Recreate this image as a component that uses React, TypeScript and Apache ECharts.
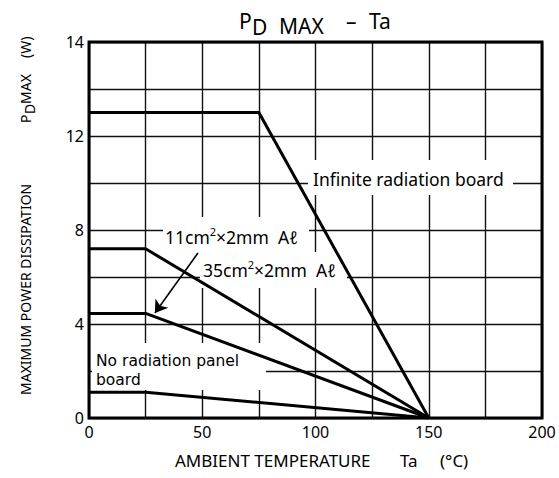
import React, { useEffect, useRef } from 'react';
import * as echarts from 'echarts';

const FONT = '"Noto Sans", "DejaVu Sans", sans-serif';
const FONT2 = '"DejaVu Sans", sans-serif';

// Ambient temperature (°C) breakpoints and PD MAX (W) values
const infiniteTa = [0, 75, 150];
const infinitePd = [13, 13, 0];
const al35Ta = [0, 25, 150];
const al35Pd = [7.2, 7.2, 0];
const al11Ta = [0, 25, 150];
const al11Pd = [4.45, 4.45, 0];
const noBoardTa = [0, 25, 150];
const noBoardPd = [1.1, 1.1, 0];

// axis ticks
const xTickLabels = [0, 50, 100, 150, 200];
const yTickValues = [0, 4, 8, 12, 16];
const yTickLabels = ['0', '4', '8', '12', '14'];

// annotation arrow (data units): from the 11cm² label to its curve
const arrowFrom = [48.1, 7.02];
const arrowTo = [29.1, 4.47];

const zip = (a: number[], b: number[]) => a.map((v, i) => [v, b[i]]);

function makeSeries(name: string, t: number[], p: number[]) {
  return {
    name,
    type: 'line',
    data: zip(t, p),
    symbol: 'none',
    silent: true,
    z: 5,
    lineStyle: { color: '#000', width: 3 },
  };
}

function whiteBox(x: number, y: number, w: number, h: number) {
  return { type: 'rect', z: 1, shape: { x, y, width: w, height: h }, style: { fill: '#fff' }, silent: true };
}

function txt(text: string, x: number, y: number, size: number, extra: any = {}) {
  return {
    type: 'text',
    z: 2,
    x,
    y,
    silent: true,
    style: { text, fontSize: size, fontFamily: FONT, fill: '#000', verticalAlign: 'middle', align: 'left', ...extra },
  };
}

const supRich = {
  s: { fontSize: 11, fontFamily: FONT, fill: '#000', verticalAlign: 'top', lineHeight: 22 },
  n: { fontSize: 17.5, fontFamily: FONT, fill: '#000', lineHeight: 22 },
};

const option: any = {
  animation: false,
  backgroundColor: '#fff',
  grid: { left: 89, top: 42, right: 17, bottom: 60, show: true, borderColor: '#000', borderWidth: 3, z: 6 },
  xAxis: {
    type: 'value',
    min: 0,
    max: 200,
    interval: 25,
    axisLine: { show: false },
    axisTick: { show: false },
    splitLine: { show: true, lineStyle: { color: '#111', width: 1.4 } },
    axisLabel: {
      margin: 6,
      fontSize: 16,
      fontFamily: FONT,
      color: '#000',
      formatter: (v: number) => (xTickLabels.includes(v) ? String(v) : ''),
    },
  },
  yAxis: {
    type: 'value',
    min: 0,
    max: 16,
    interval: 2,
    axisLine: { show: false },
    axisTick: { show: false },
    splitLine: { show: true, lineStyle: { color: '#111', width: 1.4 } },
    axisLabel: {
      margin: 5,
      fontSize: 16,
      fontFamily: FONT,
      color: '#000',
      formatter: (v: number) => {
        const i = yTickValues.indexOf(v);
        return i >= 0 ? yTickLabels[i] : '';
      },
    },
  },
  series: [
    makeSeries('Infinite radiation board', infiniteTa, infinitePd),
    makeSeries('35cm2 x 2mm Al', al35Ta, al35Pd),
    makeSeries('11cm2 x 2mm Al', al11Ta, al11Pd),
    makeSeries('No radiation panel board', noBoardTa, noBoardPd),
    {
      type: 'line',
      data: [],
      silent: true,
      z: 5,
      markLine: {
        silent: true,
        symbol: ['none', 'arrow'],
        symbolSize: 12,
        label: { show: false },
        lineStyle: { color: '#000', width: 1.6, type: 'solid' },
        data: [[{ coord: arrowFrom }, { coord: arrowTo }]],
      },
    },
  ],
  graphic: [
    // title
    txt('P', 239, 21, 21),
    txt('D', 252, 27, 21),
    txt('MAX', 279, 26, 21),
    txt('–', 346, 21, 21),
    txt('Ta', 369, 21, 21),
    // y axis title (rotated)
    {
      type: 'group',
      x: 25,
      y: 395,
      rotation: Math.PI / 2,
      children: [
        txt('MAXIMUM POWER DISSIPATION', 0, 0, 14),
        txt('P', 272, 0, 14),
        txt('D', 281, 4, 14),
        txt('MAX', 291, 0, 14),
        txt('(W)', 337, 0, 14),
      ],
    },
    // x axis title
    txt('AMBIENT TEMPERATURE', 175, 460, 17),
    txt('Ta', 400, 460, 17),
    txt('(°C)', 440, 460, 17),
    // curve labels with white backgrounds
    whiteBox(308, 160, 205, 35),
    txt('Infinite radiation board', 313, 179, 17.5),
    whiteBox(163, 217, 146, 35),
    {
      type: 'text', z: 2, x: 165, y: 237, silent: true,
      style: { text: '{n|11cm}{s|2}{n|×2mm  Aℓ}', rich: supRich, verticalAlign: 'middle', align: 'left' },
    },
    whiteBox(200, 252, 147, 36),
    {
      type: 'text', z: 2, x: 203, y: 270, silent: true,
      style: { text: '{n|35cm}{s|2}{n|×2mm  Aℓ}', rich: supRich, verticalAlign: 'middle', align: 'left' },
    },
    whiteBox(92, 343, 174, 47),
    txt('No radiation panel', 96, 361, 15.5, { fontFamily: FONT2 }),
    txt('board', 96, 380, 15.5, { fontFamily: FONT2 }),
  ],
};

export default function App() {
  const ref = useRef<HTMLDivElement>(null);
  useEffect(() => {
    const chart = echarts.init(ref.current!, null, { renderer: 'svg' });
    chart.setOption(option);
    return () => chart.dispose();
  }, []);
  return <div ref={ref} style={{ position: 'fixed', left: 0, top: 0, width: 559, height: 478 }} />;
}
